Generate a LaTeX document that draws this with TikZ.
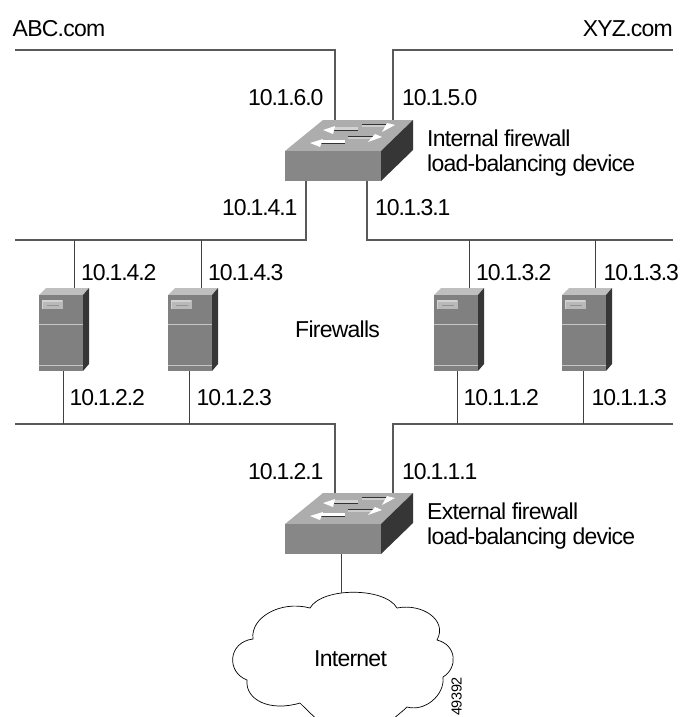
\documentclass[tikz,border=0pt]{standalone}
\usepackage{fontspec}
\setmainfont{Liberation Sans}
\definecolor{topc}{gray}{0.68}
\definecolor{frontc}{gray}{0.53}
\definecolor{sidec}{gray}{0.21}
\definecolor{srvc}{gray}{0.50}
\tikzset{
  lbl/.style={inner sep=0pt,anchor=base west,font=\fontsize{23}{26}\selectfont\addfontfeature{LetterSpace=-3.3},align=left},
  num/.style={lbl,font=\fontsize{23}{26}\selectfont\addfontfeature{LetterSpace=-5}},
  wire/.style={draw=black!75,line width=0.9pt},
  bus/.style={draw=black!65,line width=1.2pt},
  arrowline/.style={draw=black!80,line width=0.7pt},
  switchdev/.pic={
    \fill[topc] (0,0)--(38,-31)--(128,-31)--(96,0)--cycle;
    \fill[frontc] (0,0) rectangle (96,30);
    \fill[sidec] (96,0)--(128,-31)--(128,-1)--(96,30)--cycle;
    % shafts
    \fill[gray!35] (48,-24) rectangle (73,-21);
    \fill[white] (35,-11) rectangle (60,-8);
    \fill[gray!40] (77,-27) rectangle (102,-24);
    \fill[gray!40] (63,-15) rectangle (90,-12);
    \draw[arrowline] (49,-21)--(73,-21) (36,-8)--(60,-8) (77,-27)--(102,-27) (63,-15)--(90,-15);
    % heads
    \fill[white] (38,-21)--(50,-25)--(48,-17)--cycle;
    \fill[white] (25,-8)--(38,-12)--(35,-4)--cycle;
    \fill[white] (110,-26)--(102,-28)--(97,-19)--cycle;
    \fill[white] (97,-14)--(90,-17)--(83,-9)--cycle;
  },
  serverdev/.pic={
    \fill[gray!50!white] (0,0)--(7,-7)--(50,-7)--(44,0)--cycle;
    \fill[srvc] (0,0) rectangle (44,76);
    \fill[sidec] (44,0)--(50,-7)--(50,69)--(44,76)--cycle;
    \fill[gray!55] (3,5) rectangle (24,14);
    \fill[gray!35] (3,5) rectangle (23,7);
    \fill[gray!35] (3,5) rectangle (4,14);
    \draw[gray!85,line width=0.5pt] (8,10)--(20,10);
    \draw[gray!45,line width=0.8pt] (0,29.5)--(44,29.5);
    \draw[gray!45,line width=0.8pt] (0,70)--(44,70);
  }
}
\begin{document}
\begin{tikzpicture}[x=1pt,y=-1pt]
\useasboundingbox (0,0) rectangle (689,717);
\fill[white] (0,0) rectangle (689,717);
% free ends
\coordinate (tl) at (15,50);
\coordinate (tr) at (673,50);
\coordinate (ml) at (15,240);
\coordinate (mr) at (673,240);
\coordinate (bl) at (15,424);
\coordinate (br) at (673,424);
\coordinate (isw1) at (335,120);
\coordinate (isw2) at (393,120);
\coordinate (isw3) at (306,181);
\coordinate (isw4) at (367,181);
\coordinate (esw1) at (335,493);
\coordinate (esw2) at (393,493);
\coordinate (esw3) at (341,554);
\coordinate (cloudtop) at (341,593);
\coordinate (s1t) at (74,288); \coordinate (s1b) at (63,371);
\coordinate (s2t) at (201,288); \coordinate (s2b) at (189,371);
\coordinate (s3t) at (469,288); \coordinate (s3b) at (457.5,371);
\coordinate (s4t) at (595,288); \coordinate (s4b) at (583.5,371);
% cloud
\begin{scope}
\clip (0,0) rectangle (689,716);
\draw[line width=0.7pt,fill=white] (253,639)
  .. controls (250,618) and (280,600) .. (310,608)
  .. controls (322,587) and (385,587) .. (397,608)
  .. controls (422,603) and (448,620) .. (437,640)
  .. controls (457,645) and (458,668) .. (443,677)
  .. controls (445,695) and (425,712) .. (407,707)
  .. controls (402,712) and (396,716) .. (390,722)
  -- (320,722)
  .. controls (312,715) and (305,708) .. (300,703)
  .. controls (270,712) and (245,700) .. (247,680)
  .. controls (226,672) and (228,642) .. (253,639) -- cycle;
\end{scope}
% wires
\draw[bus] (tl)-|(isw1);
\draw[bus] (tr)-|(isw2);
\draw[bus] (isw3)|-(ml);
\draw[bus] (isw4)|-(mr);
\draw[bus] (bl)-|(esw1);
\draw[bus] (br)-|(esw2);
\draw[wire] (esw3)--(cloudtop);
\foreach \n in {s1t,s2t,s3t,s4t} \draw[wire] (\n)--(\n |- ml);
\foreach \n in {s1b,s2b,s3b,s4b} \draw[wire] (\n)--(\n |- bl);
% devices
\pic at (285,151) {switchdev};
\pic at (285,524) {switchdev};
\pic at (39,295) {serverdev};
\pic at (168,295) {serverdev};
\pic at (434,295) {serverdev};
\pic at (562,295) {serverdev};
% labels
\node[lbl] (abc) at (12.5,36.5) {ABC.com};
\node[lbl,anchor=base east] (xyz) at (673,36.5) {XYZ.com};
\node[num] (a1) at (248,105.5) {10.1.6.0};
\node[num] (a2) at (402,105.5) {10.1.5.0};
\node[lbl] (a3) at (427,146) {Internal firewall};
\node[lbl] (a4) at (427,171.5) {load-balancing device};
\node[num] (a5) at (222,215.5) {10.1.4.1};
\node[num] (a6) at (375,215.5) {10.1.3.1};
\node[num] (a7) at (81,280) {10.1.4.2};
\node[num] (a8) at (208,280) {10.1.4.3};
\node[num] (a9) at (476,280) {10.1.3.2};
\node[num] (a10) at (603.5,280) {10.1.3.3};
\node[lbl] (f) at (295,337) {Firewalls};
\node[num] (b1) at (69.5,405.5) {10.1.2.2};
\node[num] (b2) at (196.5,405.5) {10.1.2.3};
\node[num] (b3) at (463.5,405.5) {10.1.1.2};
\node[num] (b4) at (591.5,405.5) {10.1.1.3};
\node[num] (c1) at (248,479) {10.1.2.1};
\node[num] (c2) at (402,479) {10.1.1.1};
\node[lbl] (c3) at (427,519) {External firewall};
\node[lbl] (c4) at (427,544.5) {load-balancing device};
\node[lbl] (inet) at (314,666) {Internet};
\node[inner sep=0pt,anchor=base west,rotate=90,font=\fontsize{14.5}{16}\selectfont\addfontfeature{LetterSpace=-3}] (numb) at (461.5,716) {49392};
\end{tikzpicture}
\end{document}
